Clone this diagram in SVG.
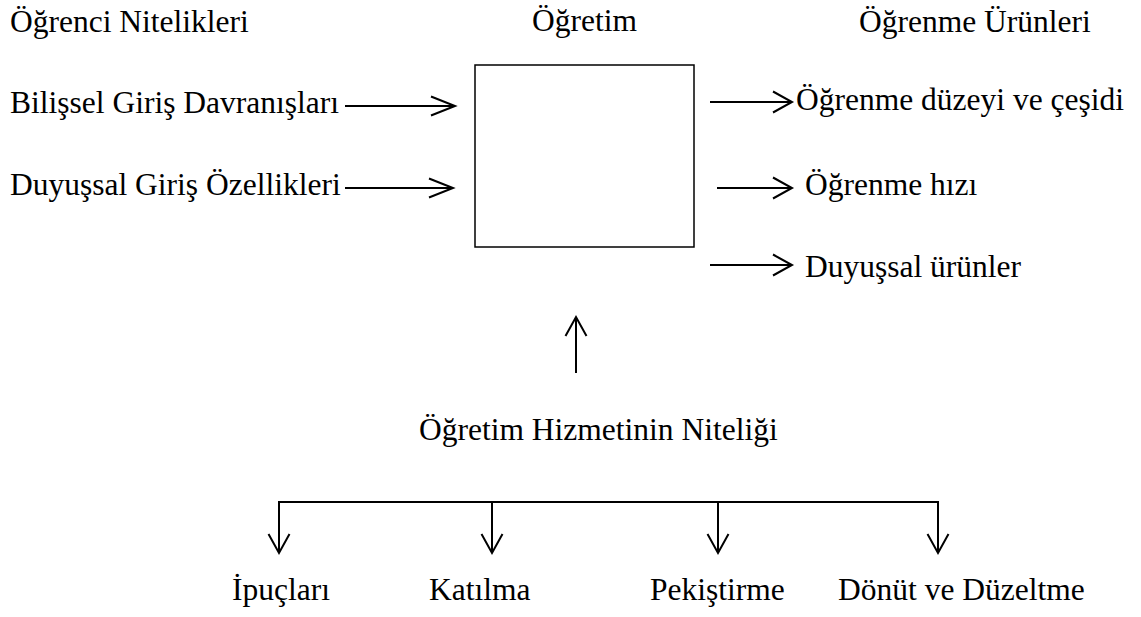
<svg xmlns="http://www.w3.org/2000/svg" width="1141" height="617" viewBox="0 0 1141 617">
<style>
text{font-family:"Liberation Serif","Times New Roman",serif;font-size:31.5px;fill:#000}
.ln{stroke:#000;stroke-width:2;fill:none}
.box{stroke:#000;stroke-width:1.5;fill:#fff}
</style>
<defs>
<marker id="head" markerUnits="userSpaceOnUse" viewBox="-21 -13 24 26" markerWidth="24" markerHeight="26" refX="0" refY="0" orient="auto" overflow="visible">
<path d="M-19,-10.5 L0,0 L-19,10.5" fill="none" stroke="#000" stroke-width="2"/>
</marker>
<marker id="headLong" markerUnits="userSpaceOnUse" viewBox="-26 -12 28 24" markerWidth="28" markerHeight="24" refX="0" refY="0" orient="auto" overflow="visible">
<path d="M-24,-9.5 L0,0 L-24,9.5" fill="none" stroke="#000" stroke-width="2"/>
</marker>
</defs>
<rect width="1141" height="617" fill="#fff"/>
<g id="header-left"><text x="10" y="32">Öğrenci Nitelikleri</text></g>
<g id="header-mid"><text x="532" y="31">Öğretim</text></g>
<g id="header-right"><text x="859" y="32">Öğrenme Ürünleri</text></g>
<g id="in1"><text x="10" y="113">Bilişsel Giriş Davranışları</text></g>
<g id="in2"><text x="10" y="195">Duyuşsal Giriş Özellikleri</text></g>
<g id="box"><rect class="box" x="475" y="65" width="219" height="182"/></g>
<g id="out1"><text x="796" y="110">Öğrenme düzeyi ve çeşidi</text></g>
<g id="out2"><text x="805" y="195">Öğrenme hızı</text></g>
<g id="out3"><text x="805" y="277">Duyuşsal ürünler</text></g>
<g id="quality"><text x="419" y="440">Öğretim Hizmetinin Niteliği</text></g>
<g id="c1"><text x="232" y="600">İpuçları</text></g>
<g id="c2"><text x="429" y="600">Katılma</text></g>
<g id="c3"><text x="650" y="600">Pekiştirme</text></g>
<g id="c4"><text x="838" y="600">Dönüt ve Düzeltme</text></g>
<g id="connectors">
<line class="ln" x1="345" y1="106" x2="455" y2="106" marker-end="url(#headLong)"/>
<line class="ln" x1="345" y1="188" x2="453" y2="188" marker-end="url(#headLong)"/>
<line class="ln" x1="710" y1="102" x2="792" y2="102" marker-end="url(#head)"/>
<line class="ln" x1="717" y1="188" x2="792" y2="188" marker-end="url(#head)"/>
<line class="ln" x1="710" y1="265" x2="792" y2="265" marker-end="url(#head)"/>
<line class="ln" x1="576" y1="373" x2="576" y2="317" marker-end="url(#head)"/>
<line class="ln" x1="278" y1="502" x2="939" y2="502"/>
<line class="ln" x1="279" y1="501" x2="279" y2="553" marker-end="url(#head)"/>
<line class="ln" x1="492" y1="502" x2="492" y2="553" marker-end="url(#head)"/>
<line class="ln" x1="718" y1="502" x2="718" y2="553" marker-end="url(#head)"/>
<line class="ln" x1="938" y1="501" x2="938" y2="553" marker-end="url(#head)"/>
</g>
</svg>
